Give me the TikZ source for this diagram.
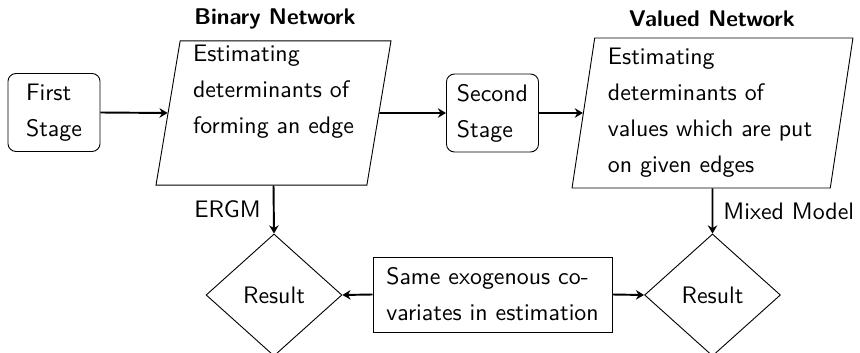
\documentclass[tikz,border=0pt]{standalone}
\usetikzlibrary{shapes.geometric,arrows.meta}
\begin{document}
\begin{tikzpicture}[x=0.44pt,y=-0.44pt,
  base/.style={font=\sffamily\fontsize{10.5}{15.84}\selectfont},
  stagebox/.style={base, draw, rounded corners=3.5pt, align=left,
    minimum width=40.5pt, minimum height=34.3pt, inner sep=2pt},
  para/.style={base, draw, trapezium, trapezium stretches body,
    align=left, inner sep=2pt},
  result/.style={base, draw, diamond, minimum width=59.8pt,
    minimum height=53.7pt, inner sep=1pt},
  note/.style={base, draw, align=left, minimum width=105.2pt,
    minimum height=33pt, inner sep=2pt},
  heading/.style={font=\sffamily\bfseries\fontsize{10}{12}\selectfont},
  flow/.style={-{Stealth[length=3.6pt,width=4.2pt,inset=1.2pt]}, line width=0.85pt},
  tag/.style={base, inner sep=0pt}
]
\useasboundingbox (0,0) rectangle (860,353);

% stage boxes
\node[stagebox] (first)  at (54,112.5)  {First\\Stage};
\node[stagebox] (second) at (492.5,113) {Second\\Stage};

% estimation steps
\node[para, minimum width=103.4pt, minimum height=63.4pt, text width=70.8pt,
      trapezium left angle=80.5, trapezium right angle=99.5]
  (bin) at (273.5,113) {Estimating\\determinants of\\forming an edge\\\strut};
\node[para, minimum width=123.6pt, minimum height=66pt, text width=92pt,
      trapezium left angle=80.7, trapezium right angle=99.3]
  (val) at (712.5,113) {Estimating\\determinants of\\values which are put\\on given edges};

\node[heading, anchor=base] (tbin) at (275,25) {Binary Network};
\node[heading, anchor=base] (tval) at (712,27) {Valued Network};

% results
\node[result] (res1) at (274,295)   {Result};
\node[result] (res2) at (712.5,295) {Result};
\node[note] (same) at (492.5,294.5) {Same exogenous co-\\variates in estimation};

% connectors
\draw[flow] (first.east) -- (bin.west);
\draw[flow] (bin.east) -- (second.west);
\draw[flow] (second.east) -- (val.west);
\draw[flow] (bin.south) -- node[tag, left=5.3pt] (lergm) {ERGM} (res1.north);
\draw[flow] (val.south) -- node[tag, right=4.4pt] (lmixed) {Mixed Model} (res2.north);
\draw[flow] (same.west) -- (res1.east);
\draw[flow] (same.east) -- (res2.west);
\end{tikzpicture}
\end{document}
